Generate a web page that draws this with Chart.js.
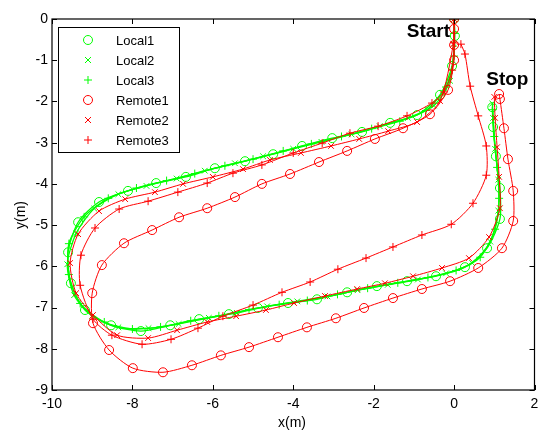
<!DOCTYPE html>
<html>
<head>
<meta charset="utf-8">
<script src="https://cdn.jsdelivr.net/npm/chart.js@4/dist/chart.umd.min.js"></script>
<style>
  html, body { margin: 0; padding: 0; background: #fff; }
  #wrap { width: 540px; height: 432px; }
</style>
</head>
<body>
<div id="wrap"><canvas id="plot" width="540" height="432"></canvas></div>
<script>
// trajectories, [x, y] in metres
const local1 = [[0,0],[0.02,-0.41],[-0.05,-1.14],[-0.35,-1.84],[-0.92,-2.33],[-1.59,-2.52],[-2.29,-2.74],[-3.03,-2.89],[-3.78,-3.08],[-4.5,-3.28],[-5.2,-3.45],[-5.95,-3.62],[-6.67,-3.83],[-7.41,-3.98],[-8.11,-4.17],[-8.83,-4.44],[-9.35,-4.93],[-9.6,-5.66],[-9.53,-6.41],[-9.18,-7.06],[-8.53,-7.43],[-7.79,-7.57],[-7.06,-7.43],[-6.34,-7.28],[-5.6,-7.16],[-4.88,-7.01],[-4.13,-6.89],[-3.41,-6.8],[-2.66,-6.63],[-1.92,-6.48],[-1.17,-6.36],[-0.45,-6.24],[0.27,-6.02],[0.82,-5.56],[1.14,-4.85],[1.14,-4.1],[1.04,-3.33],[0.97,-2.62],[0.95,-2.14]];
const local2 = [[0,0],[0,-0.6],[-0.1,-1.5],[-0.5,-2.1],[-1.15,-2.4],[-1.85,-2.6],[-2.55,-2.8],[-3.3,-2.98],[-4.0,-3.15],[-4.75,-3.33],[-5.45,-3.5],[-6.2,-3.68],[-6.9,-3.87],[-7.65,-4.05],[-8.35,-4.25],[-8.95,-4.6],[-9.4,-5.2],[-9.62,-5.95],[-9.45,-6.7],[-9.0,-7.2],[-8.35,-7.48],[-7.6,-7.5],[-6.85,-7.4],[-6.1,-7.25],[-5.4,-7.13],[-4.65,-6.97],[-3.9,-6.85],[-3.15,-6.73],[-2.4,-6.58],[-1.65,-6.45],[-0.9,-6.32],[-0.2,-6.17],[0.45,-5.92],[0.9,-5.4],[1.1,-4.65],[1.1,-3.9],[1.02,-3.15],[0.97,-2.4],[0.95,-2.05]];
const local3 = [[0,0],[0,-0.35],[0,-0.9],[-0.2,-1.65],[-0.7,-2.22],[-1.35,-2.48],[-2.05,-2.66],[-2.8,-2.85],[-3.55,-3.03],[-4.25,-3.2],[-5.0,-3.4],[-5.7,-3.56],[-6.45,-3.75],[-7.15,-3.92],[-7.9,-4.1],[-8.6,-4.35],[-9.2,-4.8],[-9.58,-5.45],[-9.58,-6.2],[-9.3,-6.9],[-8.7,-7.35],[-8.0,-7.52],[-7.3,-7.47],[-6.55,-7.32],[-5.85,-7.2],[-5.1,-7.05],[-4.35,-6.93],[-3.65,-6.83],[-2.9,-6.68],[-2.15,-6.53],[-1.4,-6.4],[-0.65,-6.27],[0.05,-6.1],[0.65,-5.78],[1.02,-5.1],[1.12,-4.35],[1.07,-3.6],[1.0,-2.85],[0.96,-2.2]];
const remote1 = [[0,0],[0,-0.24],[0,-0.63],[0,-1.0],[-0.15,-1.72],[-0.6,-2.31],[-1.27,-2.65],[-1.97,-2.91],[-2.66,-3.2],[-3.36,-3.47],[-4.08,-3.76],[-4.78,-4.0],[-5.45,-4.32],[-6.14,-4.59],[-6.84,-4.81],[-7.51,-5.12],[-8.21,-5.44],[-8.76,-5.97],[-9.0,-6.65],[-8.98,-7.38],[-8.58,-8.03],[-7.99,-8.47],[-7.24,-8.57],[-6.52,-8.4],[-5.8,-8.16],[-5.1,-7.96],[-4.38,-7.72],[-3.66,-7.48],[-2.94,-7.26],[-2.24,-7.01],[-1.52,-6.77],[-0.8,-6.55],[-0.1,-6.36],[0.6,-6.04],[1.19,-5.56],[1.47,-4.9],[1.47,-4.17],[1.34,-3.4],[1.24,-2.65],[1.14,-1.94],[1.12,-1.82]];
const remote2 = [[0,0],[-0.02,-0.61],[-0.35,-1.99],[-0.92,-2.5],[-1.64,-2.72],[-2.36,-2.91],[-3.06,-3.08],[-3.81,-3.25],[-4.58,-3.42],[-5.25,-3.64],[-6.0,-3.83],[-6.74,-4.0],[-7.44,-4.2],[-8.18,-4.37],[-8.83,-4.66],[-9.35,-5.22],[-9.55,-5.92],[-9.4,-6.65],[-8.98,-7.18],[-8.38,-7.67],[-7.61,-7.74],[-6.89,-7.55],[-6.14,-7.35],[-5.42,-7.21],[-4.68,-7.06],[-3.98,-6.89],[-3.21,-6.72],[-2.41,-6.55],[-1.72,-6.41],[-1.02,-6.24],[-0.3,-6.04],[0.37,-5.8],[0.87,-5.29],[1.14,-4.59],[1.12,-3.83],[1.07,-3.11],[1.02,-2.4],[1.0,-1.89]];
const remote3 = [[0,0],[0,-0.58],[-0.05,-1.24],[-0.25,-1.77],[-0.55,-2.04],[-1.17,-2.35],[-1.89,-2.6],[-2.59,-2.77],[-3.28,-3.01],[-4.0,-3.25],[-4.78,-3.54],[-5.5,-3.74],[-6.14,-3.98],[-6.87,-4.2],[-7.61,-4.42],[-8.33,-4.61],[-8.93,-5.07],[-9.28,-5.73],[-9.3,-6.46],[-8.98,-7.28],[-8.51,-7.67],[-7.76,-7.89],[-7.04,-7.77],[-6.37,-7.5],[-5.75,-7.21],[-5.0,-6.94],[-4.28,-6.63],[-3.58,-6.38],[-2.89,-6.07],[-2.19,-5.8],[-1.52,-5.53],[-0.8,-5.24],[-0.07,-4.98],[0.47,-4.47],[0.8,-3.79],[0.8,-3.08],[0.6,-2.35],[0.4,-1.63],[0.27,-0.85],[0.17,-0.61]];

const seriesNames = ["Local1", "Local2", "Local3", "Remote1", "Remote2", "Remote3"];
const seriesData = [local1, local2, local3, remote1, remote2, remote3];
const seriesColors = ["#00ff00", "#00ff00", "#00ff00", "#ff0000", "#ff0000", "#ff0000"];
const seriesMarks = ["circle", "crossRot", "cross", "circle", "crossRot", "cross"];

const xTicks = [-10, -8, -6, -4, -2, 0, 2];
const yTicks = [0, -1, -2, -3, -4, -5, -6, -7, -8, -9];
const notes = [{ text: "Start", x: -0.1, y: -0.44, align: "right" }, { text: "Stop", x: 0.8, y: -1.6, align: "left" }];

const FONT = "'Liberation Sans', Arial, Helvetica, sans-serif";

function markSize(m) { return m === "circle" ? 4.5 : 4; }

function drawMark(ctx, m, x, y, color) {
    const r = markSize(m);
    ctx.save();
    ctx.strokeStyle = color;
    ctx.lineWidth = 1;
    ctx.beginPath();
    if (m === "circle") {
        ctx.arc(x, y, r, 0, Math.PI * 2);
    } else if (m === "crossRot") {
        const d = r * 0.75;
        ctx.moveTo(x - d, y - d); ctx.lineTo(x + d, y + d);
        ctx.moveTo(x + d, y - d); ctx.lineTo(x - d, y + d);
    } else {
        ctx.moveTo(x - r, y); ctx.lineTo(x + r, y);
        ctx.moveTo(x, y - r); ctx.lineTo(x, y + r);
    }
    ctx.stroke();
    ctx.restore();
}

// box, inward ticks, axis titles, notes and legend (matlab look)
const framePlugin = {
    id: "frame",
    afterDatasetsDraw(chart) {
        const { ctx, chartArea: a, scales } = chart;
        const sx = scales.x, sy = scales.y;
        ctx.save();
        ctx.strokeStyle = "#000";
        ctx.lineWidth = 1.2;
        ctx.strokeRect(a.left, a.top, a.right - a.left, a.bottom - a.top);
        ctx.beginPath();
        const tl = 5;
        xTicks.forEach(v => {
            const px = Math.round(sx.getPixelForValue(v)) + 0.5;
            ctx.moveTo(px, a.bottom); ctx.lineTo(px, a.bottom - tl);
            ctx.moveTo(px, a.top); ctx.lineTo(px, a.top + tl);
        });
        yTicks.forEach(v => {
            const py = Math.round(sy.getPixelForValue(v)) + 0.5;
            ctx.moveTo(a.left, py); ctx.lineTo(a.left + tl, py);
            ctx.moveTo(a.right, py); ctx.lineTo(a.right - tl, py);
        });
        ctx.lineWidth = 1;
        ctx.stroke();

        ctx.fillStyle = "#000";
        ctx.font = "14px " + FONT;
        ctx.textAlign = "center";
        ctx.textBaseline = "middle";
        ctx.fillText("x(m)", 292, 423);
        ctx.save();
        ctx.translate(21, 215);
        ctx.rotate(-Math.PI / 2);
        ctx.fillText("y(m)", 0, 0);
        ctx.restore();

        ctx.font = "bold 19px " + FONT;
        ctx.textBaseline = "alphabetic";
        notes.forEach(n => {
            ctx.textAlign = n.align;
            ctx.fillText(n.text, sx.getPixelForValue(n.x), sy.getPixelForValue(n.y));
        });

        // legend box
        const lx = 58, ly = 27, lw = 121, lh = 125;
        ctx.fillStyle = "#fff";
        ctx.fillRect(lx, ly, lw, lh);
        ctx.strokeStyle = "#000";
        ctx.lineWidth = 1;
        ctx.strokeRect(lx + 0.5, ly + 0.5, lw, lh);
        ctx.font = "13px " + FONT;
        ctx.textAlign = "left";
        ctx.textBaseline = "middle";
        seriesNames.forEach((name, i) => {
            const yy = ly + 13 + i * 20;
            drawMark(ctx, seriesMarks[i], lx + 30, yy, seriesColors[i]);
            ctx.fillStyle = "#000";
            ctx.fillText(name, lx + 58, yy + 1);
        });
        ctx.restore();
    }
};

const datasets = seriesData.map((pts, i) => ({
    label: seriesNames[i],
    data: pts.map(p => ({ x: p[0], y: p[1] })),
    showLine: true,
    borderColor: seriesColors[i],
    backgroundColor: "rgba(0,0,0,0)",
    borderWidth: i < 3 ? 1.3 : 1,
    tension: 0.25,
    pointStyle: seriesMarks[i],
    pointRadius: markSize(seriesMarks[i]),
    pointBorderColor: seriesColors[i],
    pointBackgroundColor: "rgba(0,0,0,0)",
    pointBorderWidth: 1,
    order: 5 - i
}));

Chart.defaults.font.family = FONT;
Chart.defaults.color = "#000";

new Chart(document.getElementById("plot"), {
    type: "scatter",
    data: { datasets: datasets },
    options: {
        responsive: false,
        devicePixelRatio: 1,
        animation: false,
        layout: { padding: { top: 19, right: 5, left: 0, bottom: 0 } },
        plugins: { legend: { display: false }, tooltip: { enabled: false } },
        scales: {
            x: {
                type: "linear",
                min: -10, max: 2,
                grid: { display: false, drawTicks: false },
                border: { display: false },
                afterBuildTicks: s => { s.ticks = xTicks.map(v => ({ value: v })); },
                afterFit: s => { s.height = 42; s.paddingLeft = 0; s.paddingRight = 0; },
                ticks: { padding: 6, font: { size: 14 }, color: "#000", maxRotation: 0 }
            },
            y: {
                type: "linear",
                min: -9, max: 0,
                grid: { display: false, drawTicks: false },
                border: { display: false },
                afterBuildTicks: s => { s.ticks = yTicks.map(v => ({ value: v })); },
                afterFit: s => { s.width = 52; s.paddingTop = 0; s.paddingBottom = 0; },
                ticks: { padding: 4, font: { size: 14 }, color: "#000" }
            }
        }
    },
    plugins: [framePlugin]
});
</script>
</body>
</html>
